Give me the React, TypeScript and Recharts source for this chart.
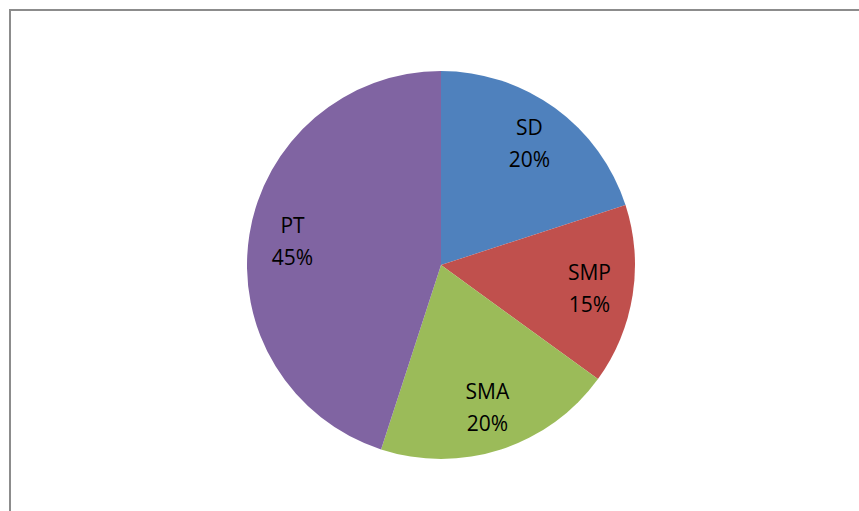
import React from "react";
import { PieChart, Pie, Cell } from "recharts";

const categories = ["SD", "SMP", "SMA", "PT"];
const values = [20, 15, 20, 45];
const colors = ["#4F81BD", "#C0504D", "#9BBB59", "#8064A2"];

const data = categories.map((name, i) => ({ name, value: values[i] }));

const RAD = Math.PI / 180;

const renderLabel = (props: any) => {
  const { cx, cy, midAngle, outerRadius, name, percent } = props;
  const r = outerRadius * 0.775;
  const x = cx + r * Math.cos(-midAngle * RAD);
  const y = cy + r * Math.sin(-midAngle * RAD);
  return (
    <text
      x={x}
      y={y}
      textAnchor="middle"
      fill="#000"
      fontFamily="'Open Sans', Lato, sans-serif"
      fontSize={21}
    >
      <tspan x={x} y={y - 8.5}>{name}</tspan>
      <tspan x={x} y={y + 23.5}>{`${Math.round(percent * 100)}%`}</tspan>
    </text>
  );
};

export default function App() {
  return (
    <div style={{ position: "absolute", left: 0, top: 0, width: 859, height: 511, background: "#fff", overflow: "hidden" }}>
      <div
        style={{
          position: "absolute",
          left: 9,
          top: 9,
          width: 860,
          height: 520,
          borderLeft: "2px solid #8c8c8c",
          borderTop: "2px solid #8c8c8c",
        }}
      />
      <div style={{ position: "absolute", left: 0, top: 0 }}>
        <PieChart width={859} height={511} margin={{ top: 0, right: 0, bottom: 0, left: 0 }}>
          <Pie
            data={data}
            dataKey="value"
            nameKey="name"
            cx={441}
            cy={265}
            outerRadius={194}
            startAngle={90}
            endAngle={-270}
            stroke="none"
            label={renderLabel}
            labelLine={false}
            isAnimationActive={false}
          >
            {data.map((d, i) => (
              <Cell key={d.name} fill={colors[i]} />
            ))}
          </Pie>
        </PieChart>
      </div>
    </div>
  );
}
